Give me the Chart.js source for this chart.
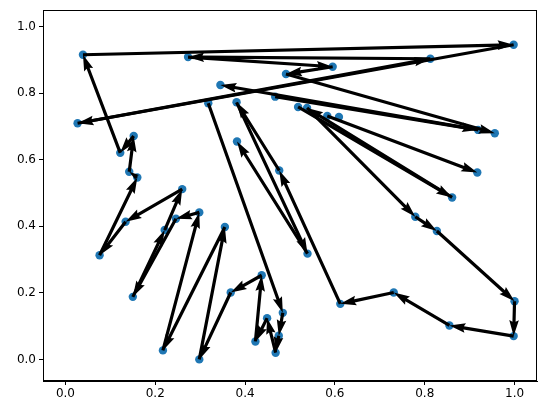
<!DOCTYPE html>
<html>
<head>
<meta charset="utf-8">
<script src="https://cdn.jsdelivr.net/npm/chart.js@4/dist/chart.umd.min.js"></script>
<style>
  html, body { margin: 0; padding: 0; background: #fff; }
  #wrap { width: 547px; height: 413px; }
</style>
</head>
<body>
<div id="wrap"><canvas id="quiver"></canvas></div>
<script>
// point positions
var xs = [0.039, 0.273, 0.998, 0.8125, 0.595, 0.491, 0.345, 0.027, 0.318, 0.381,
          0.467, 0.518, 0.538, 0.583, 0.609, 0.919, 0.956, 0.917, 0.861, 0.779,
          0.827, 1.0, 0.998, 0.855, 0.731, 0.612, 0.539, 0.476, 0.382, 0.152,
          0.122, 0.142, 0.160, 0.260, 0.134, 0.298, 0.246, 0.221, 0.076, 0.355,
          0.150, 0.437, 0.368, 0.217, 0.298, 0.449, 0.484, 0.423, 0.475, 0.468];
var ys = [0.916, 0.909, 0.946, 0.904, 0.880, 0.858, 0.825, 0.710, 0.770, 0.773,
          0.790, 0.759, 0.756, 0.732, 0.729, 0.690, 0.680, 0.562, 0.487, 0.429,
          0.386, 0.175, 0.070, 0.102, 0.201, 0.167, 0.318, 0.568, 0.655, 0.672,
          0.621, 0.564, 0.547, 0.512, 0.414, 0.442, 0.423, 0.389, 0.313, 0.398,
          0.188, 0.253, 0.201, 0.027, 0.000, 0.124, 0.140, 0.054, 0.071, 0.020];

// arrows: from point index -> to point index
var arrowFrom = [30, 0, 2, 7, 3, 1, 4, 5, 15, 10, 25, 27, 9, 26, 24, 23, 22, 21, 20, 19,
                 12, 11, 18, 13, 8, 46, 48, 49, 45, 47, 41, 42, 44, 39, 43, 35, 36, 40, 37, 33,
                 34, 38, 32, 31, 29];
var arrowTo   = [0, 2, 7, 3, 1, 4, 5, 16, 6, 15, 27, 9, 26, 28, 25, 24, 23, 22, 21, 20,
                 19, 18, 12, 17, 46, 48, 49, 45, 47, 41, 42, 44, 39, 43, 35, 36, 40, 37, 33, 34,
                 38, 32, 31, 29, 30];

var xTicks = [0.0, 0.2, 0.4, 0.6, 0.8, 1.0];
var yTicks = [0.0, 0.2, 0.4, 0.6, 0.8, 1.0];

var points = xs.map(function (x, i) { return { x: x, y: ys[i] }; });

// matplotlib-like quiver arrows, drawn through the chart scales
var quiverPlugin = {
  id: "quiver",
  afterDatasetsDraw: function (chart) {
    var ctx = chart.ctx;
    var sx = chart.scales.x, sy = chart.scales.y;
    var w = 3.2, hl = 5 * w, hal = 4.5 * w, hw = 1.5 * w;
    ctx.save();
    ctx.fillStyle = "#000";
    for (var k = 0; k < arrowFrom.length; k++) {
      var a = arrowFrom[k], b = arrowTo[k];
      var x0 = sx.getPixelForValue(xs[a]), y0 = sy.getPixelForValue(ys[a]);
      var x1 = sx.getPixelForValue(xs[b]), y1 = sy.getPixelForValue(ys[b]);
      var dx = x1 - x0, dy = y1 - y0;
      var L = Math.sqrt(dx * dx + dy * dy);
      if (L < 0.5) continue;
      var s = L < hl ? L / hl : 1;
      var pts = [[-L, -0.5 * w * s], [-hal * s, -0.5 * w * s], [-hl * s, -hw * s], [0, 0],
                 [-hl * s, hw * s], [-hal * s, 0.5 * w * s], [-L, 0.5 * w * s]];
      ctx.save();
      ctx.translate(x1, y1);
      ctx.rotate(Math.atan2(dy, dx));
      ctx.beginPath();
      ctx.moveTo(pts[0][0], pts[0][1]);
      for (var p = 1; p < pts.length; p++) ctx.lineTo(pts[p][0], pts[p][1]);
      ctx.closePath();
      ctx.fill();
      ctx.restore();
    }
    // axes frame
    var ca = chart.chartArea;
    ctx.strokeStyle = "#000";
    ctx.lineWidth = 1;
    ctx.strokeRect(Math.round(ca.left) + 0.5, Math.round(ca.top) + 0.5,
                   Math.round(ca.right - ca.left) - 1, Math.round(ca.bottom - ca.top) - 1);
    ctx.restore();
  }
};

var tickFont = { family: "DejaVu Sans", size: 12 };

new Chart("quiver", {
  type: "scatter",
  data: {
    datasets: [{
      data: points,
      backgroundColor: "#1f77b4",
      borderWidth: 0,
      pointRadius: 4.2
    }]
  },
  options: {
    responsive: true,
    maintainAspectRatio: false,
    animation: false,
    layout: { padding: { top: 10, right: 10, left: 0, bottom: 0 } },
    plugins: { legend: { display: false }, tooltip: { enabled: false } },
    scales: {
      x: {
        type: "linear",
        min: -0.05,
        max: 1.05,
        afterBuildTicks: function (scale) { scale.ticks = xTicks.map(function (v) { return { value: v }; }); },
        afterFit: function (scale) { scale.height = 32; },
        ticks: { color: "#000", font: tickFont, padding: 2,
                 callback: function (v) { return Number(v).toFixed(1); } },
        grid: { display: true, drawOnChartArea: false, drawTicks: true, tickLength: 4, tickColor: "#000" },
        border: { display: true, color: "#000" }
      },
      y: {
        type: "linear",
        min: -0.065,
        max: 1.05,
        afterBuildTicks: function (scale) { scale.ticks = yTicks.map(function (v) { return { value: v }; }); },
        afterFit: function (scale) { scale.width = 43; },
        ticks: { color: "#000", font: tickFont, padding: 3,
                 callback: function (v) { return Number(v).toFixed(1); } },
        grid: { display: true, drawOnChartArea: false, drawTicks: true, tickLength: 4, tickColor: "#000" },
        border: { display: true, color: "#000" }
      }
    }
  },
  plugins: [quiverPlugin]
});
</script>
</body>
</html>
